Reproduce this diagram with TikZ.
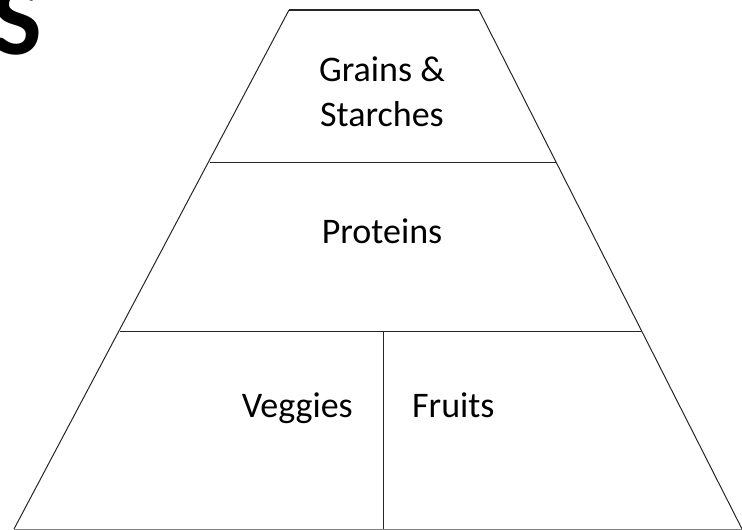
\documentclass[tikz,border=0pt]{standalone}
\usepackage{fontspec}
\setmainfont{Carlito}
\usetikzlibrary{positioning}

\begin{document}
\begin{tikzpicture}[x=1pt, y=-1pt, lbl/.style={font=\fontsize{36}{45}\selectfont, align=center, inner sep=0pt}, edge/.style={draw=black!85, line width=1pt}]
\useasboundingbox (0,0) rectangle (742,530);
% cut-off letter in the corner
\node[font=\fontsize{105}{105}\selectfont\bfseries, inner sep=0pt, anchor=base east] (cornerS) at (42,54) {S};
% pyramid outline
\coordinate (topL) at (289,10);
\coordinate (topR) at (479,10);
\coordinate (botL) at (14,529);
\coordinate (botR) at (742,529);
\coordinate (midL) at (210,162);
\coordinate (midR) at (556,162);
\coordinate (lowL) at (120,331);
\coordinate (lowR) at (641,331);
\coordinate (divT) at (383,331);
\coordinate (divB) at (383,529);
\draw[edge, line width=1.6pt] (topL) -- (topR);
\draw[edge] (topL) -- (botL);
\draw[edge] (topR) -- (botR);
\draw[edge, draw=black!50] (botL) -- (botR);
\draw[edge] (midL) -- (midR);
\draw[edge] (lowL) -- (lowR);
\draw[edge] (divT) -- (divB);
% labels
\node[lbl] (grains) at (382,92) {Grains \&\\Starches};
\node[lbl] (proteins) at (382,231) {Proteins};
\node[lbl, anchor=base east] (veggies) at (353,417) {Veggies};
\node[lbl, anchor=base west] (fruits) at (412,417) {Fruits};
\end{tikzpicture}
\end{document}
